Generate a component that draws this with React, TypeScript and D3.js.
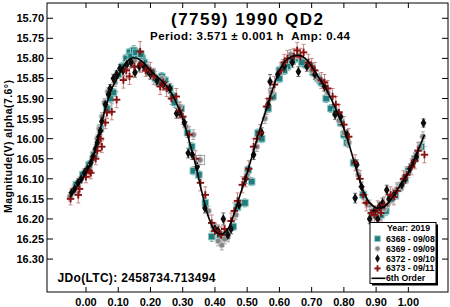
import React from "react";
import * as d3 from "d3";

// ---------- data ----------
const title = "(7759) 1990 QD2";
const subtitle = "Period: 3.571 ± 0.001 h\u00A0\u00A0Amp: 0.44";
const jdText = "JDo(LTC): 2458734.713494";
const yLabel = "Magnitude(V) alpha(7.6°)";
const legendTitle = "Year: 2019";
const seriesNames = ["6368 - 09/08", "6369 - 09/09", "6372 - 09/10", "6373 - 09/11"];
const fitName = "6th Order";

const xTicks = [0, 0.1, 0.2, 0.3, 0.4, 0.5, 0.6, 0.7, 0.8, 0.9, 1.0];
const yTicks = [15.7, 15.75, 15.8, 15.85, 15.9, 15.95, 16.0, 16.05, 16.1, 16.15, 16.2, 16.25, 16.3];

// [phase, magnitude, error]
const s6368 = [
  [-0.03, 16.115, 0.01], [-0.01, 16.09, 0.01], [0.01, 16.065, 0.01], [0.025, 16.04, 0.012],
  [0.045, 15.975, 0.01], [0.065, 15.925, 0.01], [0.075, 15.9, 0.01], [0.085, 15.885, 0.01],
  [0.1, 15.84, 0.01], [0.115, 15.82, 0.01], [0.125, 15.8, 0.01], [0.135, 15.785, 0.01],
  [0.148, 15.78, 0.012], [0.16, 15.79, 0.01], [0.175, 15.8, 0.01], [0.19, 15.825, 0.01],
  [0.205, 15.835, 0.01], [0.225, 15.86, 0.01], [0.245, 15.855, 0.01], [0.26, 15.875, 0.01],
  [0.275, 15.91, 0.012], [0.295, 15.925, 0.01], [0.315, 15.985, 0.012], [0.328, 16.02, 0.01],
  [0.333, 16.08, 0.01], [0.35, 16.09, 0.01], [0.37, 16.16, 0.012], [0.39, 16.244, 0.012],
  [0.415, 16.245, 0.012], [0.435, 16.24, 0.012], [0.457, 16.219, 0.01], [0.47, 16.17, 0.01],
  [0.493, 16.16, 0.01], [0.503, 16.078, 0.01], [0.514, 16.107, 0.01], [0.534, 15.986, 0.01],
  [0.545, 16.0, 0.01], [0.565, 15.925, 0.01], [0.58, 15.895, 0.01], [0.6, 15.83, 0.01],
  [0.625, 15.82, 0.01], [0.65, 15.8, 0.01], [0.68, 15.815, 0.01], [0.705, 15.835, 0.01],
  [0.73, 15.86, 0.01], [0.76, 15.925, 0.01], [0.775, 15.935, 0.01], [0.8, 15.99, 0.01],
  [0.83, 16.06, 0.01], [0.86, 16.14, 0.012], [0.89, 16.185, 0.012], [0.915, 16.19, 0.012],
  [0.945, 16.15, 0.01], [0.975, 16.12, 0.01], [1.0, 16.08, 0.01], [1.02, 16.05, 0.01],
  [1.04, 16.02, 0.01],
  [0.14, 15.795, 0.01], [0.155, 15.785, 0.01], [0.17, 15.79, 0.01], [0.18, 15.81, 0.01],
  [0.215, 15.85, 0.01], [0.235, 15.845, 0.01], [0.27, 15.895, 0.01], [0.6, 15.85, 0.01],
  [0.615, 15.83, 0.01], [0.64, 15.805, 0.01], [0.67, 15.81, 0.01], [0.695, 15.82, 0.01],
  [0.72, 15.85, 0.01], [0.745, 15.9, 0.01], [0.79, 15.96, 0.01], [0.81, 16.01, 0.01],
  [0.9, 16.19, 0.012], [0.93, 16.18, 0.012], [0.96, 16.14, 0.01], [0.99, 16.1, 0.01],
];

const s6369 = [
  [-0.05, 16.145, 0.01], [-0.035, 16.125, 0.01], [-0.015, 16.1, 0.01], [0.005, 16.075, 0.01],
  [0.02, 16.045, 0.01], [0.035, 16.0, 0.01], [0.05, 15.945, 0.01], [0.068, 15.883, 0.01],
  [0.09, 15.86, 0.01], [0.11, 15.83, 0.01], [0.13, 15.81, 0.01], [0.15, 15.805, 0.012],
  [0.17, 15.81, 0.012], [0.19, 15.82, 0.012], [0.215, 15.845, 0.012], [0.235, 15.85, 0.012],
  [0.255, 15.87, 0.012], [0.29, 15.92, 0.012], [0.31, 15.97, 0.012], [0.333, 15.99, 0.012],
  [0.354, 16.053, 0.012], [0.38, 16.18, 0.012], [0.421, 16.265, 0.012], [0.44, 16.245, 0.012],
  [0.465, 16.19, 0.012], [0.5, 16.09, 0.012], [0.53, 16.02, 0.012], [0.555, 15.95, 0.012],
  [0.575, 15.885, 0.012], [0.61, 15.815, 0.012], [0.635, 15.79, 0.012], [0.66, 15.795, 0.012],
  [0.69, 15.815, 0.012], [0.72, 15.85, 0.012], [0.75, 15.885, 0.012], [0.785, 15.955, 0.012],
  [0.815, 16.01, 0.012], [0.845, 16.09, 0.012], [0.88, 16.165, 0.012], [0.91, 16.175, 0.012],
  [0.935, 16.165, 0.012], [0.965, 16.125, 0.012], [0.99, 16.095, 0.012], [1.015, 16.055, 0.012],
  [1.035, 16.02, 0.012], [1.045, 15.995, 0.012],
  [-0.04, 16.13, 0.01], [-0.02, 16.105, 0.01], [0.0, 16.08, 0.01], [0.012, 16.07, 0.01],
  [0.028, 16.03, 0.01], [0.042, 15.975, 0.01], [0.058, 15.91, 0.01], [0.395, 16.22, 0.012],
  [0.41, 16.255, 0.012], [0.43, 16.25, 0.012], [0.87, 16.16, 0.012], [0.9, 16.185, 0.012],
  [0.925, 16.175, 0.012], [0.955, 16.14, 0.012], [0.975, 16.12, 0.012], [1.0, 16.085, 0.012],
  [1.025, 16.04, 0.012], [0.6, 15.835, 0.012], [0.7, 15.83, 0.012], [0.8, 15.985, 0.012],
];

const s6372 = [
  [-0.045, 16.135, 0.01], [-0.025, 16.11, 0.01], [-0.005, 16.085, 0.01], [0.015, 16.06, 0.01],
  [0.03, 16.025, 0.01], [0.04, 15.995, 0.01], [0.049, 15.957, 0.01], [0.06, 15.915, 0.01],
  [0.075, 15.875, 0.01], [0.085, 15.85, 0.01], [0.105, 15.825, 0.01], [0.126, 15.816, 0.012],
  [0.14, 15.81, 0.012], [0.152, 15.835, 0.012], [0.18, 15.82, 0.012], [0.2, 15.84, 0.012],
  [0.22, 15.855, 0.012], [0.24, 15.865, 0.012], [0.26, 15.875, 0.012], [0.281, 15.937, 0.012],
  [0.29, 15.935, 0.012], [0.305, 15.96, 0.012], [0.317, 16.036, 0.012], [0.33, 16.04, 0.012],
  [0.345, 16.07, 0.012], [0.369, 16.173, 0.012], [0.4, 16.225, 0.012], [0.426, 16.2, 0.015],
  [0.45, 16.225, 0.012], [0.475, 16.165, 0.012], [0.495, 16.1, 0.012], [0.52, 16.04, 0.012],
  [0.545, 15.985, 0.012], [0.565, 15.915, 0.015], [0.571, 15.858, 0.018], [0.595, 15.84, 0.012],
  [0.615, 15.82, 0.012], [0.64, 15.81, 0.012], [0.659, 15.833, 0.012], [0.685, 15.82, 0.012],
  [0.71, 15.84, 0.012], [0.74, 15.87, 0.012], [0.773, 15.94, 0.012], [0.79, 15.945, 0.012],
  [0.81, 15.99, 0.012], [0.835, 16.148, 0.012], [0.84, 16.065, 0.012], [0.855, 16.12, 0.012],
  [0.895, 16.18, 0.012], [0.92, 16.16, 0.012], [0.933, 16.128, 0.012], [0.955, 16.14, 0.012],
  [0.98, 16.115, 0.012], [1.005, 16.075, 0.012], [1.025, 16.045, 0.012], [1.047, 15.961, 0.01],
  [-0.035, 16.125, 0.01], [-0.015, 16.1, 0.01], [0.005, 16.075, 0.01], [0.022, 16.045, 0.01],
  [0.035, 16.01, 0.01], [0.045, 15.98, 0.01], [0.07, 15.89, 0.01], [0.095, 15.84, 0.01],
  [0.115, 15.83, 0.012], [0.165, 15.82, 0.012], [0.19, 15.83, 0.012], [0.41, 16.23, 0.012],
  [0.44, 16.24, 0.012], [0.88, 16.2, 0.012], [0.905, 16.2, 0.012], [0.91, 16.17, 0.012],
  [0.94, 16.15, 0.012], [0.99, 16.1, 0.012], [1.015, 16.06, 0.012],
];

const s6373 = [
  [-0.048, 16.15, 0.015], [-0.024, 16.14, 0.02], [-0.02, 16.125, 0.015], [0.0, 16.095, 0.015],
  [0.015, 16.085, 0.015], [0.03, 16.05, 0.015], [0.045, 16.0, 0.015], [0.049, 16.02, 0.015],
  [0.065, 15.935, 0.015], [0.08, 15.933, 0.02], [0.095, 15.903, 0.02], [0.116, 15.854, 0.02],
  [0.125, 15.83, 0.02], [0.135, 15.845, 0.02], [0.15, 15.82, 0.02], [0.168, 15.783, 0.025],
  [0.185, 15.83, 0.015], [0.21, 15.845, 0.02], [0.23, 15.87, 0.02], [0.25, 15.875, 0.02],
  [0.265, 15.9, 0.015], [0.28, 15.895, 0.02], [0.3, 15.945, 0.02], [0.32, 15.99, 0.02],
  [0.34, 16.05, 0.02], [0.355, 16.11, 0.02], [0.37, 16.14, 0.02], [0.39, 16.21, 0.02],
  [0.41, 16.235, 0.02], [0.43, 16.225, 0.02], [0.45, 16.205, 0.02], [0.47, 16.155, 0.02],
  [0.485, 16.115, 0.02], [0.505, 16.075, 0.02], [0.52, 16.02, 0.02], [0.54, 15.985, 0.02],
  [0.56, 15.92, 0.02], [0.585, 15.865, 0.02], [0.605, 15.83, 0.02], [0.625, 15.8, 0.02],
  [0.645, 15.795, 0.02], [0.655, 15.78, 0.02], [0.675, 15.785, 0.02], [0.69, 15.81, 0.02],
  [0.71, 15.83, 0.02], [0.73, 15.855, 0.02], [0.75, 15.875, 0.02], [0.765, 15.895, 0.02],
  [0.785, 15.935, 0.02], [0.8, 15.965, 0.02], [0.815, 15.995, 0.02], [0.835, 16.06, 0.02],
  [0.85, 16.1, 0.02], [0.87, 16.16, 0.02], [0.885, 16.185, 0.02], [0.905, 16.175, 0.02],
  [0.925, 16.165, 0.02], [0.945, 16.14, 0.02], [0.965, 16.13, 0.02], [0.985, 16.1, 0.02],
  [1.01, 16.07, 0.02], [1.03, 16.03, 0.02], [1.05, 16.04, 0.02],
  [0.01, 16.08, 0.015], [0.035, 16.03, 0.015], [0.06, 15.96, 0.015], [0.17, 15.815, 0.02],
  [0.2, 15.83, 0.02], [0.24, 15.86, 0.02], [0.29, 15.93, 0.02], [0.4, 16.23, 0.02],
  [0.42, 16.24, 0.02], [0.46, 16.18, 0.02], [0.495, 16.1, 0.02], [0.53, 16.0, 0.02],
  [0.57, 15.9, 0.02], [0.615, 15.81, 0.02], [0.665, 15.795, 0.02], [0.7, 15.82, 0.02],
  [0.74, 15.86, 0.02], [0.775, 15.915, 0.02], [0.86, 16.14, 0.02], [0.895, 16.19, 0.02],
  [0.915, 16.185, 0.02], [0.955, 16.145, 0.02], [0.995, 16.09, 0.02], [1.02, 16.055, 0.02],
];

// 6th order fit: [phase, magnitude]
const fitCurve = [
  [-0.05, 16.145], [-0.02, 16.11], [0.0, 16.085], [0.02, 16.05], [0.04, 15.99], [0.06, 15.925],
  [0.08, 15.875], [0.1, 15.845], [0.12, 15.815], [0.14, 15.8], [0.16, 15.8], [0.18, 15.812],
  [0.2, 15.83], [0.22, 15.845], [0.24, 15.86], [0.26, 15.88], [0.28, 15.91], [0.3, 15.95],
  [0.32, 16.005], [0.34, 16.065], [0.36, 16.135], [0.38, 16.195], [0.4, 16.23], [0.42, 16.238],
  [0.44, 16.225], [0.46, 16.185], [0.48, 16.135], [0.5, 16.085], [0.52, 16.03], [0.54, 15.975],
  [0.56, 15.925], [0.58, 15.875], [0.6, 15.83], [0.62, 15.805], [0.64, 15.795], [0.66, 15.792],
  [0.68, 15.8], [0.7, 15.82], [0.72, 15.845], [0.74, 15.87], [0.76, 15.9], [0.78, 15.935],
  [0.8, 15.975], [0.82, 16.025], [0.84, 16.08], [0.86, 16.13], [0.88, 16.16], [0.9, 16.172],
  [0.92, 16.172], [0.94, 16.158], [0.96, 16.135], [0.98, 16.11], [1.0, 16.085], [1.02, 16.05],
  [1.04, 16.01], [1.05, 15.99],
];

// highlighted (boxed) observation
const boxedPoint = [[0.354, 16.053]];

// ---------- layout ----------
const W = 450, H = 307;
const L = 47, R = 448, T = 3, B = 292;
const FONT = "'Liberation Sans', Arial, Helvetica, sans-serif";

const x = d3.scaleLinear().domain([-0.121, 1.123]).range([L, R]);
const y = d3.scaleLinear().domain([15.662, 16.382]).range([T, B]);

const styles = [
  { shape: "square", fill: "#237c7c", stroke: "#8cc9c9", err: "#7ab3b3" },
  { shape: "circle", fill: "#858585", stroke: "#cfcfcf", err: "#a8a8a8" },
  { shape: "diamond", fill: "#0d0d0d", stroke: "#0d0d0d", err: "#6a6a6a" },
  { shape: "plus", fill: "#8a1111", stroke: "#8a1111", err: "#c98888" },
];
const allSeries = [s6368, s6369, s6372, s6373];

function Marker({ shape, cx, cy, st, scale = 1 }) {
  if (shape === "square") {
    const s = 6.6 * scale;
    return <rect x={cx - s / 2} y={cy - s / 2} width={s} height={s} fill={st.fill} stroke={st.stroke} strokeWidth={0.9} />;
  }
  if (shape === "circle") {
    return <circle cx={cx} cy={cy} r={3 * scale} fill={st.fill} stroke={st.stroke} strokeWidth={0.9} />;
  }
  if (shape === "diamond") {
    const p = d3.symbol().type(d3.symbolDiamond).size(28 * scale * scale)();
    return <path d={p} transform={`translate(${cx},${cy})`} fill={st.fill} />;
  }
  const a = 3.7 * scale;
  return (
    <g stroke={st.fill} strokeWidth={1.9}>
      <line x1={cx - a} x2={cx + a} y1={cy} y2={cy} />
      <line x1={cx} x2={cx} y1={cy - a} y2={cy + a} />
    </g>
  );
}

export default function App() {
  const line = d3
    .line()
    .x((d) => x(d[0]))
    .y((d) => y(d[1]))
    .curve(d3.curveCatmullRom);

  const fmt = d3.format(".2f");

  const legendRows = [238.7, 248.6, 258.5, 268.4];

  return (
    <svg
      width={W}
      height={H}
      style={{ position: "absolute", left: 0, top: 0, background: "#fff" }}
      fontFamily={FONT}
      fontWeight="bold"
    >
      <rect x={0} y={0} width={W} height={H} fill="#fff" />
      <defs>
        <clipPath id="plotclip">
          <rect x={L} y={T} width={R - L} height={B - T} />
        </clipPath>
      </defs>

      {/* error bars */}
      <g clipPath="url(#plotclip)">
        {allSeries.map((s, si) => (
          <g key={"e" + si} stroke={styles[si].err} strokeWidth={1}>
            {s.map((d, i) => {
              const cx = x(d[0]);
              const y1 = y(d[1] - d[2]);
              const y2 = y(d[1] + d[2]);
              return (
                <g key={i}>
                  <line x1={cx} x2={cx} y1={y1} y2={y2} />
                  <line x1={cx - 2} x2={cx + 2} y1={y1} y2={y1} />
                  <line x1={cx - 2} x2={cx + 2} y1={y2} y2={y2} />
                </g>
              );
            })}
          </g>
        ))}

        {/* markers */}
        {allSeries.map((s, si) => (
          <g key={"m" + si}>
            {s.map((d, i) => (
              <Marker key={i} shape={styles[si].shape} cx={x(d[0])} cy={y(d[1])} st={styles[si]} />
            ))}
          </g>
        ))}

        {boxedPoint.map((d, i) => (
          <rect key={"b" + i} x={x(d[0]) - 4.5} y={y(d[1]) - 4.5} width={9} height={9} fill="none" stroke="#9a9a9a" strokeWidth={0.9} />
        ))}

        {/* fit */}
        <path d={line(fitCurve)} fill="none" stroke="#000" strokeWidth={1.6} />
      </g>

      {/* frame */}
      <rect x={L} y={T} width={R - L} height={B - T} fill="none" stroke="#000" strokeWidth={1} />

      {/* x ticks */}
      {xTicks.map((t) => (
        <g key={"x" + t}>
          <line x1={x(t)} x2={x(t)} y1={B} y2={B - 5} stroke="#000" />
          <line x1={x(t)} x2={x(t)} y1={T} y2={T + 5} stroke="#000" />
          <text x={x(t)} y={305.5} textAnchor="middle" fontSize={11} fill="#000">
            {fmt(t)}
          </text>
        </g>
      ))}

      {/* y ticks */}
      {yTicks.map((t) => (
        <g key={"y" + t}>
          <line x1={L} x2={L + 6} y1={y(t)} y2={y(t)} stroke="#000" />
          <line x1={R} x2={R - 6} y1={y(t)} y2={y(t)} stroke="#000" />
          <text x={44} y={y(t) + 4} textAnchor="end" fontSize={11} fill="#000">
            {fmt(t)}
          </text>
        </g>
      ))}

      {/* y label */}
      <text
        transform={`translate(11.5,146.5) rotate(-90)`}
        textAnchor="middle"
        fontSize={10.5}
        textLength={133}
        fill="#000"
      >
        {yLabel}
      </text>

      {/* titles */}
      <text x={247} y={25} textAnchor="middle" fontSize={17} textLength={152} fill="#000">
        {title}
      </text>
      <text x={250} y={39.5} textAnchor="middle" fontSize={11.5} textLength={200} fill="#000">
        {subtitle}
      </text>

      <text x={57.5} y={282} fontSize={12} textLength={158} fill="#000">
        {jdText}
      </text>

      {/* legend */}
      <rect x={372} y={224.5} width={66} height={61} fill="#000" />
      <rect x={370} y={222.5} width={66} height={61} fill="#fff" stroke="#000" strokeWidth={1} />
      <text x={408.5} y={231} textAnchor="middle" fontSize={8.7} fill="#000">
        {legendTitle}
      </text>
      {seriesNames.map((n, i) => (
        <g key={n}>
          <Marker shape={styles[i].shape} cx={377.5} cy={legendRows[i]} st={styles[i]} scale={0.85} />
          <text x={386} y={legendRows[i] + 3} fontSize={8.7} fill="#000">
            {n}
          </text>
        </g>
      ))}
      <line x1={371.5} x2={385.5} y1={278.3} y2={278.3} stroke="#000" strokeWidth={1.6} />
      <text x={386} y={281.3} fontSize={8.7} fill="#000">
        {fitName}
      </text>
    </svg>
  );
}
